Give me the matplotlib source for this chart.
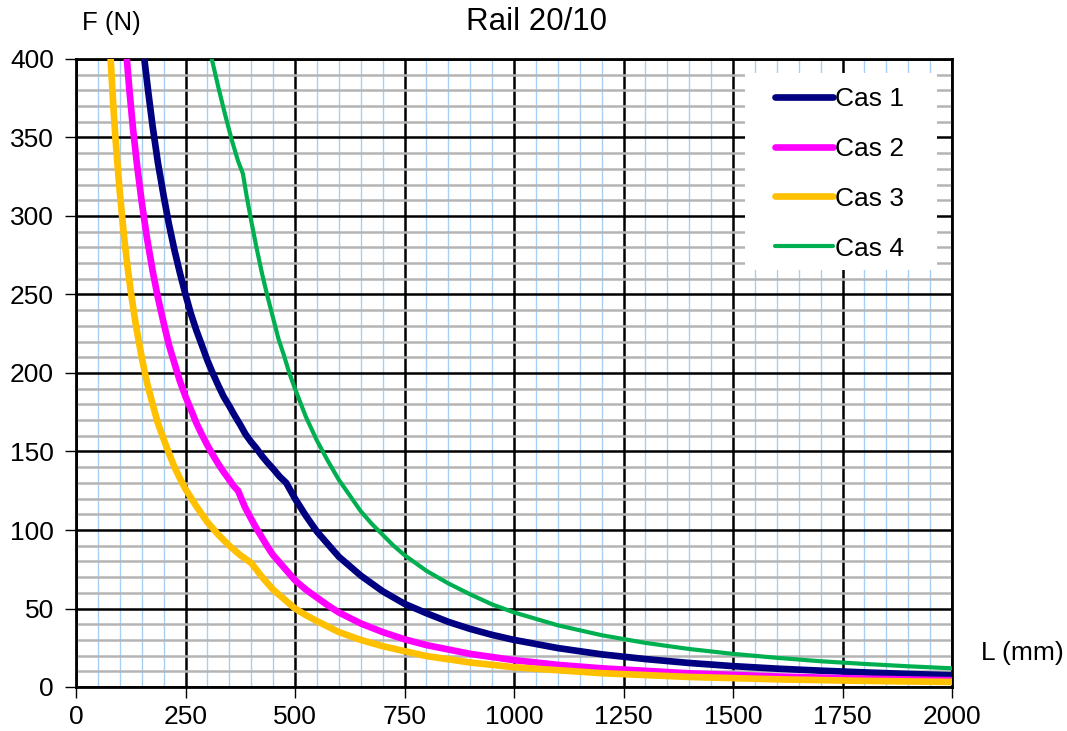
import matplotlib
matplotlib.use("Agg")
import matplotlib.pyplot as plt
from matplotlib.ticker import MultipleLocator
from matplotlib.patches import Rectangle

plt.rcParams['font.family'] = ['Liberation Sans', 'DejaVu Sans']

# Data
L1 = [156, 165, 175, 187, 200, 212, 225, 237, 250, 262, 275, 287, 300, 312, 325, 337, 350, 362,
      375, 387, 400, 412, 425, 437, 450, 465, 480,
      500, 525, 550, 575, 600, 625, 650, 675, 700, 725, 750, 775, 800, 850, 900, 950, 1000,
      1100, 1200, 1300, 1400, 1500, 1600, 1700, 1800, 1900, 2000]
F1 = [400, 379, 357, 334, 313, 295, 278, 264, 250, 238, 227, 218, 208, 200, 192, 185, 179, 173,
      167, 161, 156, 152, 147, 143, 139, 134, 130,
      120, 109, 99, 91, 83, 77, 71, 66, 61, 57, 53, 50, 47, 41.5, 37, 33.2, 30,
      24.8, 20.8, 17.8, 15.3, 13.3, 11.7, 10.4, 9.3, 8.3, 7.5]

L2 = [116, 122, 130, 140, 150, 162, 175, 187, 200, 212, 225, 237, 250, 262, 275, 287, 300,
      312, 325, 337, 350, 360, 370,
      385, 400, 412, 425, 437, 450, 475, 500, 525, 550, 575, 600, 650, 700, 750, 800, 900,
      1000, 1100, 1200, 1400, 1600, 1800, 2000]
F2 = [400, 380, 356, 331, 309, 286, 265, 248, 232, 218, 206, 195, 185, 177, 168, 161, 154,
      148, 142, 137, 132, 128, 125,
      115, 107, 101, 95, 89.5, 84, 76, 68, 62, 57, 52, 47.5, 40.5, 35, 30.4, 26.7, 21.1,
      17.1, 14.1, 11.9, 8.7, 6.7, 5.3, 4.3]

L3 = [79, 85, 90, 95, 100, 110, 118, 125, 137, 150, 162, 175, 187, 200, 212, 225, 237, 250,
      275, 300, 325, 350, 375, 400, 425, 450, 475, 500, 525, 550, 600, 650, 700, 800, 900,
      1000, 1200, 1400, 1600, 1800, 2000]
F3 = [400, 371, 350, 332, 315, 286, 267, 252, 230, 210, 194, 180, 168, 158, 149, 140, 133, 126,
      115, 105, 97, 90, 84, 79, 70, 62, 56, 50, 45.7, 42, 35, 30, 26, 19.7, 15.6,
      12.6, 8.8, 6.4, 4.9, 3.9, 3.2]

L4 = [310, 325, 340, 355, 370, 381, 390, 400, 412, 425, 437, 450, 462, 475, 487, 500, 525, 550,
      575, 600, 625, 650, 675, 700, 725, 750, 775, 800, 850, 900, 950, 1000, 1100, 1200,
      1300, 1400, 1500, 1600, 1700, 1800, 1900, 2000]
F4 = [400, 382, 365, 349, 335, 327, 312, 297, 280, 263, 249, 235, 222, 211, 200, 190, 172, 157,
      144, 132, 122, 112, 104, 97, 90, 84, 79, 74, 66, 59, 52.6, 47.5, 39.3, 33,
      28.1, 24.2, 21.1, 18.6, 16.4, 14.7, 13.2, 11.9]

series = [
    ("Cas 1", L1, F1, "#000080", 4.8),
    ("Cas 2", L2, F2, "#FF00FF", 4.8),
    ("Cas 3", L3, F3, "#FFC000", 4.8),
    ("Cas 4", L4, F4, "#00B050", 3.0),
]

x_ticks = [0, 250, 500, 750, 1000, 1250, 1500, 1750, 2000]
y_ticks = [0, 50, 100, 150, 200, 250, 300, 350, 400]

W, H = 1067, 731
AX_L, AX_R, AX_T, AX_B = 76, 952, 59, 687

fig = plt.figure(figsize=(W/100, H/100), dpi=100)
ax = fig.add_axes([AX_L/W, 1-AX_B/H, (AX_R-AX_L)/W, (AX_B-AX_T)/H])

def ax_xy(px, py):
    return ((px-AX_L)/(AX_R-AX_L), (AX_B-py)/(AX_B-AX_T))

ax.set_xlim(0, 2000)
ax.set_ylim(0, 400)
ax.set_xticks(x_ticks)
ax.set_yticks(y_ticks)
ax.xaxis.set_minor_locator(MultipleLocator(50))
ax.yaxis.set_minor_locator(MultipleLocator(10))

ax.grid(which='minor', axis='x', color='#A6CFF5', linewidth=1.0, zorder=0)
ax.grid(which='minor', axis='y', color='#B4B4B4', linewidth=1.8, zorder=0)
ax.grid(which='major', axis='both', color='black', linewidth=1.8, zorder=1)
ax.set_axisbelow(True)

for name, L, F, c, lw in series:
    ax.plot(L, F, color=c, linewidth=lw, label=name, solid_capstyle='round',
            solid_joinstyle='round', zorder=3)

# legend background box
x0, y0 = ax_xy(745, 270)
x1, y1 = ax_xy(937, 73)
ax.add_patch(Rectangle((x0, y0), x1-x0, y1-y0, transform=ax.transAxes,
                       facecolor='white', edgecolor='none', zorder=2.5))

for s in ax.spines.values():
    s.set_linewidth(2.0)
    s.set_color('black')

ax.tick_params(axis='both', which='minor', length=0)
ax.tick_params(axis='x', which='major', direction='out', length=8, width=1, labelsize=19, pad=5)
ax.tick_params(axis='y', which='major', direction='out', length=8, width=1, labelsize=19, pad=8)

lx, ly = ax_xy(775, 87)
leg = ax.legend(loc='upper left', bbox_to_anchor=(lx, ly),
                frameon=False, fontsize=19, handlelength=2.2, handletextpad=0.08,
                labelspacing=0.98, borderpad=0, borderaxespad=0)
leg.set_zorder(4)

fig.text(536/W, 1-22/H, "Rail 20/10", ha='center', va='center', fontsize=22.5)
fig.text(111/W, 1-23/H, "F (N)", ha='center', va='center', fontsize=18.5)
fig.text(1022/W, 1-653/H, "L (mm)", ha='center', va='center', fontsize=19)

fig.savefig("out.png", dpi=100)
